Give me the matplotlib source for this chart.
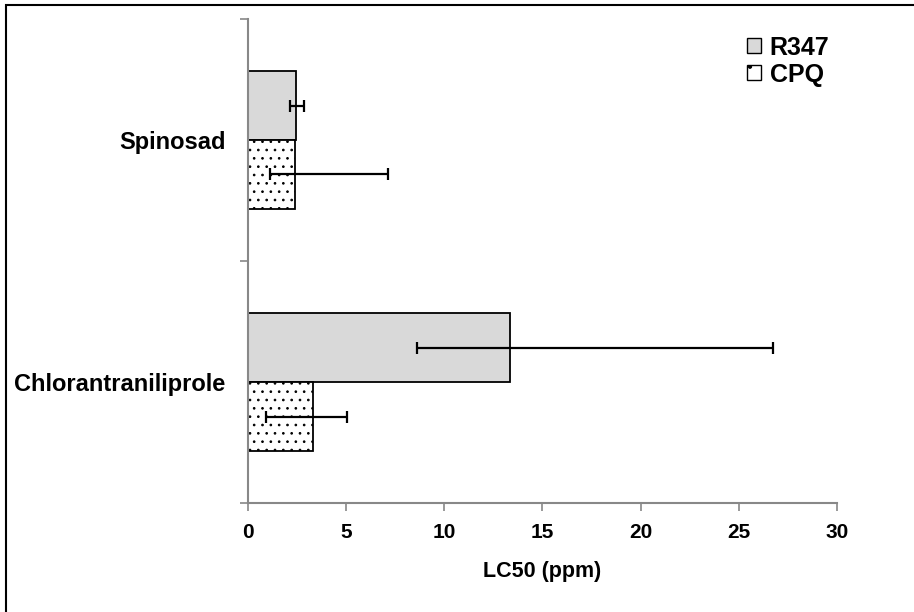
import numpy as np
import matplotlib
matplotlib.use('Agg')
import matplotlib.pyplot as plt
from matplotlib.patches import Rectangle, Patch

plt.rcParams['font.family'] = ['Liberation Sans', 'DejaVu Sans']
plt.rcParams['font.weight'] = 'bold'
plt.rcParams['hatch.linewidth'] = 0.7

########## Data #############################
insecticides = ['Chlorantraniliprole', 'Spinosad']
r347 = [13.35, 2.45]
r347_lo = [8.65, 2.15]
r347_hi = [26.75, 2.85]
cpq = [3.35, 2.42]
cpq_lo = [0.95, 1.15]
cpq_hi = [5.05, 7.15]

########## Plot #############################
fig = plt.figure(figsize=(9.14, 6.12), dpi=100)
ax = fig.add_axes([0.2708, 0.178, 0.645, 0.791])

y = np.arange(len(insecticides))
h = 0.285

err_r = [np.array(r347) - np.array(r347_lo), np.array(r347_hi) - np.array(r347)]
err_c = [np.array(cpq) - np.array(cpq_lo), np.array(cpq_hi) - np.array(cpq)]

ax.barh(y + h/2, r347, height=h, color='#d9d9d9', edgecolor='black', lw=1.3,
        label='R347', zorder=2)
ax.barh(y - h/2, cpq, height=h, color='white', edgecolor='black', lw=1.3,
        hatch='..', label='CPQ', zorder=2)
ax.errorbar(r347, y + h/2, xerr=err_r, fmt='none', ecolor='black', elinewidth=1.6,
            capsize=4.3, capthick=1.6, zorder=3)
ax.errorbar(cpq, y - h/2, xerr=err_c, fmt='none', ecolor='black', elinewidth=1.6,
            capsize=4.3, capthick=1.6, zorder=3)

ax.set_xlim(0, 30)
ax.set_ylim(-0.5, 1.5)
ax.set_xticks(np.arange(0, 31, 5))
ax.set_yticks([-0.5, 0.5, 1.5])
ax.set_yticklabels([])
ax.set_yticks(y, minor=True)
ax.set_yticklabels(insecticides, minor=True)
ax.tick_params(axis='y', which='minor', length=0, pad=16, labelsize=17)
ax.tick_params(axis='y', which='major', length=6, color='#888888', width=1.2)
ax.tick_params(axis='x', length=6, color='#888888', width=1.2, labelsize=15, pad=8)

for s in ['top', 'right']:
    ax.spines[s].set_visible(False)
for s in ['left', 'bottom']:
    ax.spines[s].set_color('#888888')
    ax.spines[s].set_linewidth(1.5)

ax.set_xlabel('LC50 (ppm)', fontsize=15.5, fontweight='bold', labelpad=14)

handles = [Patch(facecolor='#d9d9d9', edgecolor='black', lw=1.0, label='R347'),
           Patch(facecolor='white', edgecolor='black', lw=1.0, hatch='.', label='CPQ')]
ax.legend(handles=handles, loc='upper right', bbox_to_anchor=(1.025, 1.012), frameon=False,
          handlelength=0.55, handleheight=0.55, handletextpad=0.35,
          labelspacing=0.12, prop={'weight': 'bold', 'size': 18})

fig.patches.append(Rectangle((6/914, -0.05), 1.05, 1 - 5/612 + 0.05, transform=fig.transFigure,
                             fill=False, edgecolor='black', lw=1.5))

plt.savefig('out.png', dpi=100)
